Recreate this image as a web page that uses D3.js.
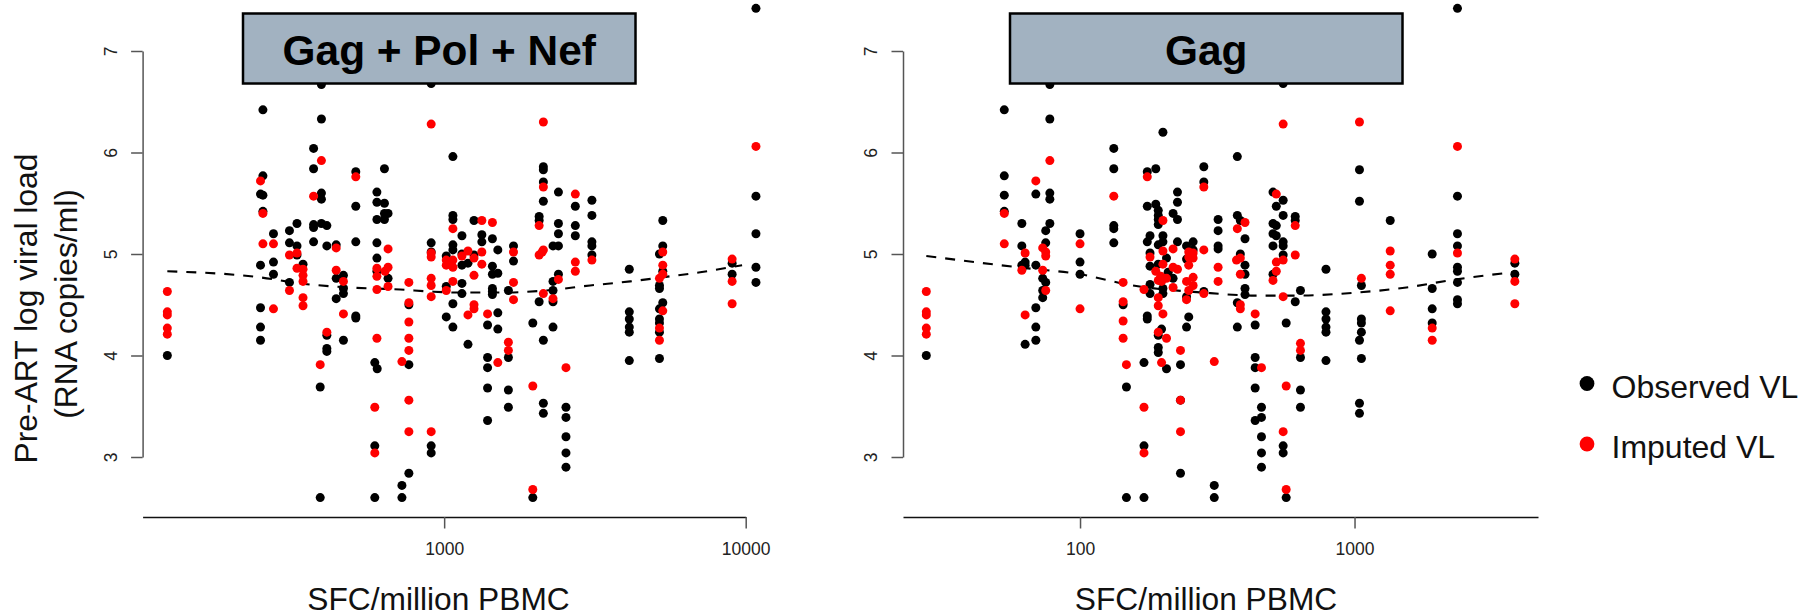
<!DOCTYPE html>
<html><head><meta charset="utf-8">
<script src="https://cdn.jsdelivr.net/npm/d3@7/dist/d3.min.js"></script>
<style>html,body{margin:0;padding:0;background:#fff}svg{display:block}text{font-family:"Liberation Sans",Arial,sans-serif}</style>
</head><body><svg id="c" width="1812" height="613"></svg>
<script>
// Each column: [log10(SFC/million PBMC), [pre-ART log viral loads]]
const leftObserved = [
[2.082,[4.00]],[2.399,[6.42,5.77,5.58,5.42]],[2.391,[5.59,4.89,4.47,4.28,4.15]],[2.434,[5.20,4.92,4.80]],
[2.487,[5.23,5.11,4.72]],[2.512,[5.30,5.08,4.99]],[2.532,[4.90]],[2.567,[6.04,5.84,5.29,5.26,5.12]],
[2.593,[6.67,6.33,5.60,5.54,5.30]],[2.611,[5.28,5.08,4.20,4.07,4.04]],[2.589,[3.69,2.60]],[2.666,[4.15,4.79,4.66,4.61]],
[2.642,[5.09,4.76,4.56]],[2.707,[5.81,5.47,5.12,4.39,4.37]],[2.777,[5.61,5.51,5.34,5.11,4.96,4.83]],[2.770,[3.93,3.11,2.60]],
[2.778,[3.87]],[2.802,[5.84,5.50,5.40,5.34]],[2.814,[5.40,4.76]],[2.883,[4.50,3.91,2.84]],[2.860,[2.72,2.60]],
[2.957,[6.68,5.11,5.02,3.11,3.04]],[3.029,[5.96,5.38,5.34,5.09,5.04,4.51,4.28]],[3.007,[4.98,4.68,4.38]],
[3.059,[5.18,5.00,4.89,4.71,4.61]],[3.079,[4.91,4.11]],[3.099,[5.33,4.99]],[3.125,[5.19,5.12]],
[3.160,[5.15,4.88,4.80,4.66,4.63,4.60]],[3.178,[5.04,4.81,4.42,4.26]],[3.144,[4.30,3.98,3.88,3.68,3.36]],
[3.213,[4.64,3.98,3.66,3.49]],[3.230,[5.08,4.93]],[3.294,[4.32,2.60]],[3.315,[5.37,5.33,4.53]],
[3.329,[5.86,5.83,5.71,5.52,4.15,3.53,3.43]],[3.361,[5.08,4.73,4.64,4.53,4.28]],[3.379,[5.61,5.30,5.20,5.08,4.80]],
[3.404,[3.49,3.39,3.20,3.04,2.90]],[3.435,[5.47,5.28,5.18]],[3.490,[5.53,5.38,5.12,5.08,4.99]],
[3.614,[4.85,4.43,4.36,4.28,4.23,3.95]],[3.725,[5.33,5.08,4.83,4.52]],[3.714,[5.00,4.69,4.66,4.46,4.36,4.32,4.23,3.97]],
[3.955,[4.91,4.80]],[4.034,[7.42,5.57,5.20,4.87,4.72]]
];
const leftImputed = [
[2.082,[4.63,4.43,4.40,4.27,4.21]],[2.399,[5.40,5.10]],[2.391,[5.72]],[2.434,[5.10,4.46]],[2.487,[4.99,4.64]],
[2.512,[5.01,4.86]],[2.532,[4.85,4.79,4.73,4.57,4.49]],[2.567,[5.57]],[2.593,[5.92]],[2.611,[4.23]],[2.589,[3.91]],
[2.642,[5.06,4.84]],[2.666,[4.73,4.41]],[2.707,[5.76]],[2.777,[4.86,4.78,4.65,4.17]],[2.770,[3.49,3.04]],
[2.814,[5.05,4.87,4.68]],[2.804,[4.83]],[2.883,[4.72,4.52,4.33,4.17,4.05,3.56,3.25]],[2.860,[3.94]],
[2.957,[6.28,5.01,4.97,4.76,4.69,4.58,3.25]],[3.029,[5.25,4.94,4.87,4.73]],[3.007,[4.94,4.89,4.64]],[3.059,[4.98]],
[3.079,[5.03,4.40]],[3.099,[4.96,4.79,4.50,4.46]],[3.125,[5.33,5.02,4.90]],[3.160,[5.31]],[3.144,[4.41]],[3.178,[3.93]],
[3.213,[4.13,4.05]],[3.230,[5.02,4.72,4.55]],[3.294,[3.70,2.68]],[3.315,[5.28,4.99]],[3.329,[6.30,5.66,5.04,4.61]],
[3.325,[5.02]],[3.361,[4.56]],[3.379,[4.75]],[3.404,[3.88]],[3.435,[5.59,4.92,4.83]],[3.490,[4.94]],
[3.725,[5.02,4.89,4.80,4.44]],[3.714,[4.76,4.27,4.15]],[3.955,[4.95,4.73,4.51]],[4.034,[6.06]]
];
const rightObserved = [
[1.440,[4.00]],[1.724,[6.42,5.77,5.58,5.42]],[1.788,[5.30,5.08,4.89]],[1.800,[4.92,4.89,4.11]],[1.839,[5.59,4.89,4.47,4.28,4.15]],
[1.864,[4.76,4.64,4.57]],[1.875,[5.23,5.11,4.72]],[1.890,[6.67,6.33,5.60,5.54,5.30]],[2.000,[5.20,4.92,4.80]],
[2.123,[6.04,5.84,5.28,5.25,5.11]],[2.157,[4.50]],[2.169,[3.69,2.60]],[2.233,[3.93,3.11,2.60]],[2.245,[5.81,5.47,5.12,4.39,4.36]],
[2.255,[5.18,5.01,4.88,4.70,4.61]],[2.276,[5.84,5.49]],[2.285,[5.43,5.38,5.34,5.29,5.09,4.90,4.20,4.08,4.03]],
[2.302,[6.20,5.18,5.12,4.66,4.61]],[2.297,[4.26]],[2.315,[4.96,3.87]],[2.321,[4.82]],[2.339,[5.40,4.76]],[2.355,[5.61,5.51,5.34,5.12]],
[2.366,[3.91,3.56,2.84]],[2.388,[5.08,4.95,4.58,4.28]],[2.396,[4.38]],[2.412,[5.12,5.04]],[2.451,[5.86,5.71,4.63]],
[2.503,[5.34,5.23,5.08,5.05]],[2.489,[2.72,2.60]],[2.573,[5.96,5.38,4.52,4.28]],[2.584,[5.33,5.00]],[2.601,[5.15,4.89,4.80,4.66,4.60]],
[2.638,[4.30,3.98,3.88,3.68,3.36]],[2.661,[3.49,3.39,3.20,3.04,2.90]],[2.703,[5.61,5.30,5.20,5.08,4.80]],[2.715,[5.47,5.28,5.18]],
[2.740,[6.68,5.53,5.38,5.12,5.08,4.99,3.11,3.04]],[2.751,[4.32,2.60]],[2.784,[5.37,5.33,4.53]],[2.803,[4.64,3.98,3.66,3.49]],
[2.896,[4.85,4.43,4.36,4.28,4.23,3.95]],[3.018,[5.83,5.52,4.15,3.53,3.43]],[3.025,[4.69,4.36,4.32,4.23,3.97]],[3.130,[5.33]],
[3.283,[5.00,4.66,4.46,4.32]],[3.375,[7.42,5.57,5.20,5.08,4.87,4.83,4.72,4.55,4.51]],[3.584,[4.91,4.80]]
];
const rightImputed = [
[1.440,[4.63,4.43,4.40,4.27,4.21]],[1.724,[5.40,5.10]],[1.788,[4.84]],[1.800,[5.01,4.40]],[1.839,[5.72]],[1.864,[5.06,4.84]],
[1.875,[5.02,4.98,4.64]],[1.890,[5.92]],[2.000,[5.10,4.46]],[2.123,[5.57]],[2.157,[4.72,4.53,4.34,4.17]],[2.169,[3.91]],
[2.233,[4.65,3.49,3.04]],[2.245,[5.76]],[2.255,[4.97]],[2.276,[4.83]],[2.285,[4.74,4.57,4.49,4.23]],[2.297,[4.73,3.93]],[2.294,[4.78]],
[2.302,[5.33,5.03,4.90,4.41]],[2.315,[4.76,4.17]],[2.339,[5.05,4.87,4.67]],[2.355,[4.85]],[2.366,[4.05,3.56,3.25]],[2.388,[4.73,4.55]],
[2.396,[5.02,4.97,4.89,4.64]],[2.412,[5.01,4.96,4.77,4.69]],[2.451,[5.66,5.04,4.61]],[2.489,[3.94]],[2.503,[4.87,4.73]],[2.573,[5.25]],
[2.570,[4.94]],[2.584,[4.96,4.80,4.50,4.46]],[2.601,[5.31]],[2.638,[4.41]],[2.661,[3.88]],[2.703,[4.74]],[2.715,[5.59,4.92,4.83]],
[2.740,[6.28,4.94,4.58,3.25]],[2.751,[3.70,2.68]],[2.784,[5.28,4.99]],[2.803,[4.12,4.05]],[3.018,[6.30]],[3.025,[4.76]],
[3.130,[5.03,4.89,4.80,4.44]],[3.283,[4.27,4.15]],[3.375,[6.06,5.01]],[3.584,[4.95,4.73,4.51]]
];
// Fitted dashed curves: [log10(SFC), log viral load]
const leftFit = [[2.082,4.83],[2.390,4.77],[2.523,4.71],[2.688,4.67],[2.854,4.65],[2.957,4.63],[3.053,4.62],[3.186,4.62],[3.335,4.64],[3.484,4.69],[3.617,4.73],[3.723,4.77],[3.849,4.82],[3.988,4.89]];
const rightFit = [[1.440,4.98],[1.771,4.87],[2.000,4.80],[2.193,4.69],[2.447,4.62],[2.647,4.59],[2.789,4.59],[3.007,4.62],[3.189,4.67],[3.345,4.74],[3.575,4.82]];
const yTicks = [3,4,5,6,7];
const leftXTicks = [1000,10000];
const rightXTicks = [100,1000];
const panelTitles = ["Gag + Pol + Nef","Gag"];
const xTitle = "SFC/million PBMC";
const yTitleLines = ["Pre-ART log viral load","(RNA copies/ml)"];
const legendLabels = ["Observed VL","Imputed VL"];
const legendColors = ["#000000","#ff0000"];

const svg = d3.select("#c");
const y = d3.scaleLinear().domain([3,7]).range([457,51]);
const flat = cols => cols.flatMap(([lx,vs]) => vs.map(v => [Math.pow(10,lx),v]));

function panel(cfg){
  const x = d3.scaleLog().domain(cfg.xDomain).range(cfg.xRange);
  const g = svg.append("g");
  const ya = d3.axisLeft(y).tickValues(yTicks).tickSizeInner(11.5).tickSizeOuter(0).tickPadding(9).tickFormat(d3.format("d"));
  const gy = g.append("g").attr("transform",`translate(${cfg.xRange[0]},0)`).call(ya);
  gy.selectAll("path,line").attr("stroke","#555").attr("stroke-width",1.5);
  gy.selectAll("text").attr("font-size",17.5).attr("fill","#222").attr("font-family","Liberation Sans")
    .attr("text-anchor","middle").attr("dy",0).attr("x",0).attr("y",0)
    .attr("transform",`translate(-26,0) rotate(-90)`);
  const xa = d3.axisBottom(x).tickValues(cfg.xTicks).tickSizeInner(11.5).tickSizeOuter(0).tickPadding(14).tickFormat(d=>String(d));
  const gx = g.append("g").attr("transform","translate(0,517)").call(xa);
  gx.select("path").attr("stroke","#111").attr("stroke-width",1.5);
  gx.selectAll("line").attr("stroke","#555").attr("stroke-width",1.5);
  gx.selectAll("text").attr("font-size",17.5).attr("fill","#222").attr("font-family","Liberation Sans");

  const dot = (data,color) => g.append("g").selectAll("circle").data(flat(data)).join("circle")
    .attr("cx",d=>x(d[0])).attr("cy",d=>y(d[1])).attr("r",4.5).attr("fill",color);
  dot(cfg.observed,legendColors[0]);
  const line = d3.line().x(d=>x(Math.pow(10,d[0]))).y(d=>y(d[1])).curve(d3.curveMonotoneX);
  g.append("path").attr("d",line(cfg.fit)).attr("fill","none").attr("stroke","#000").attr("stroke-width",2.1).attr("stroke-dasharray","10,9");
  dot(cfg.imputed,legendColors[1]);

  g.append("rect").attr("x",cfg.box[0]).attr("y",13.5).attr("width",cfg.box[1]-cfg.box[0]).attr("height",70)
    .attr("fill","#a2b2c1").attr("stroke","#000").attr("stroke-width",2.5);
  g.append("text").attr("x",(cfg.box[0]+cfg.box[1])/2).attr("y",65).attr("text-anchor","middle")
    .attr("font-size",42.4).attr("font-weight","bold").attr("fill","#000").text(cfg.title);
  g.append("text").attr("x",cfg.xTitleX).attr("y",609.5).attr("text-anchor","middle").attr("font-size",31.7).attr("fill","#111").text(xTitle);
}
panel({xDomain:[100,10000],xRange:[142.6,745.7],xTicks:leftXTicks,observed:leftObserved,imputed:leftImputed,fit:leftFit,title:panelTitles[0],box:[243,635.5],xTitleX:438.5});
panel({xDomain:[22.65,4660],xRange:[903,1538],xTicks:rightXTicks,observed:rightObserved,imputed:rightImputed,fit:rightFit,title:panelTitles[1],box:[1010,1402.5],xTitleX:1206});

yTitleLines.forEach((t,i)=>{
  svg.append("text").attr("transform",`translate(${[36.5,76.5][i]},${[308.5,304][i]}) rotate(-90)`).attr("text-anchor","middle")
    .attr("font-size",31.8).attr("fill","#111").text(t);
});
legendLabels.forEach((t,i)=>{
  svg.append("circle").attr("cx",1587).attr("cy",[383.5,444][i]).attr("r",7.4).attr("fill",legendColors[i]);
  svg.append("text").attr("x",1611.5).attr("y",[397.5,457.5][i]).attr("font-size",32).attr("fill","#111").text(t);
});
</script></body></html>
